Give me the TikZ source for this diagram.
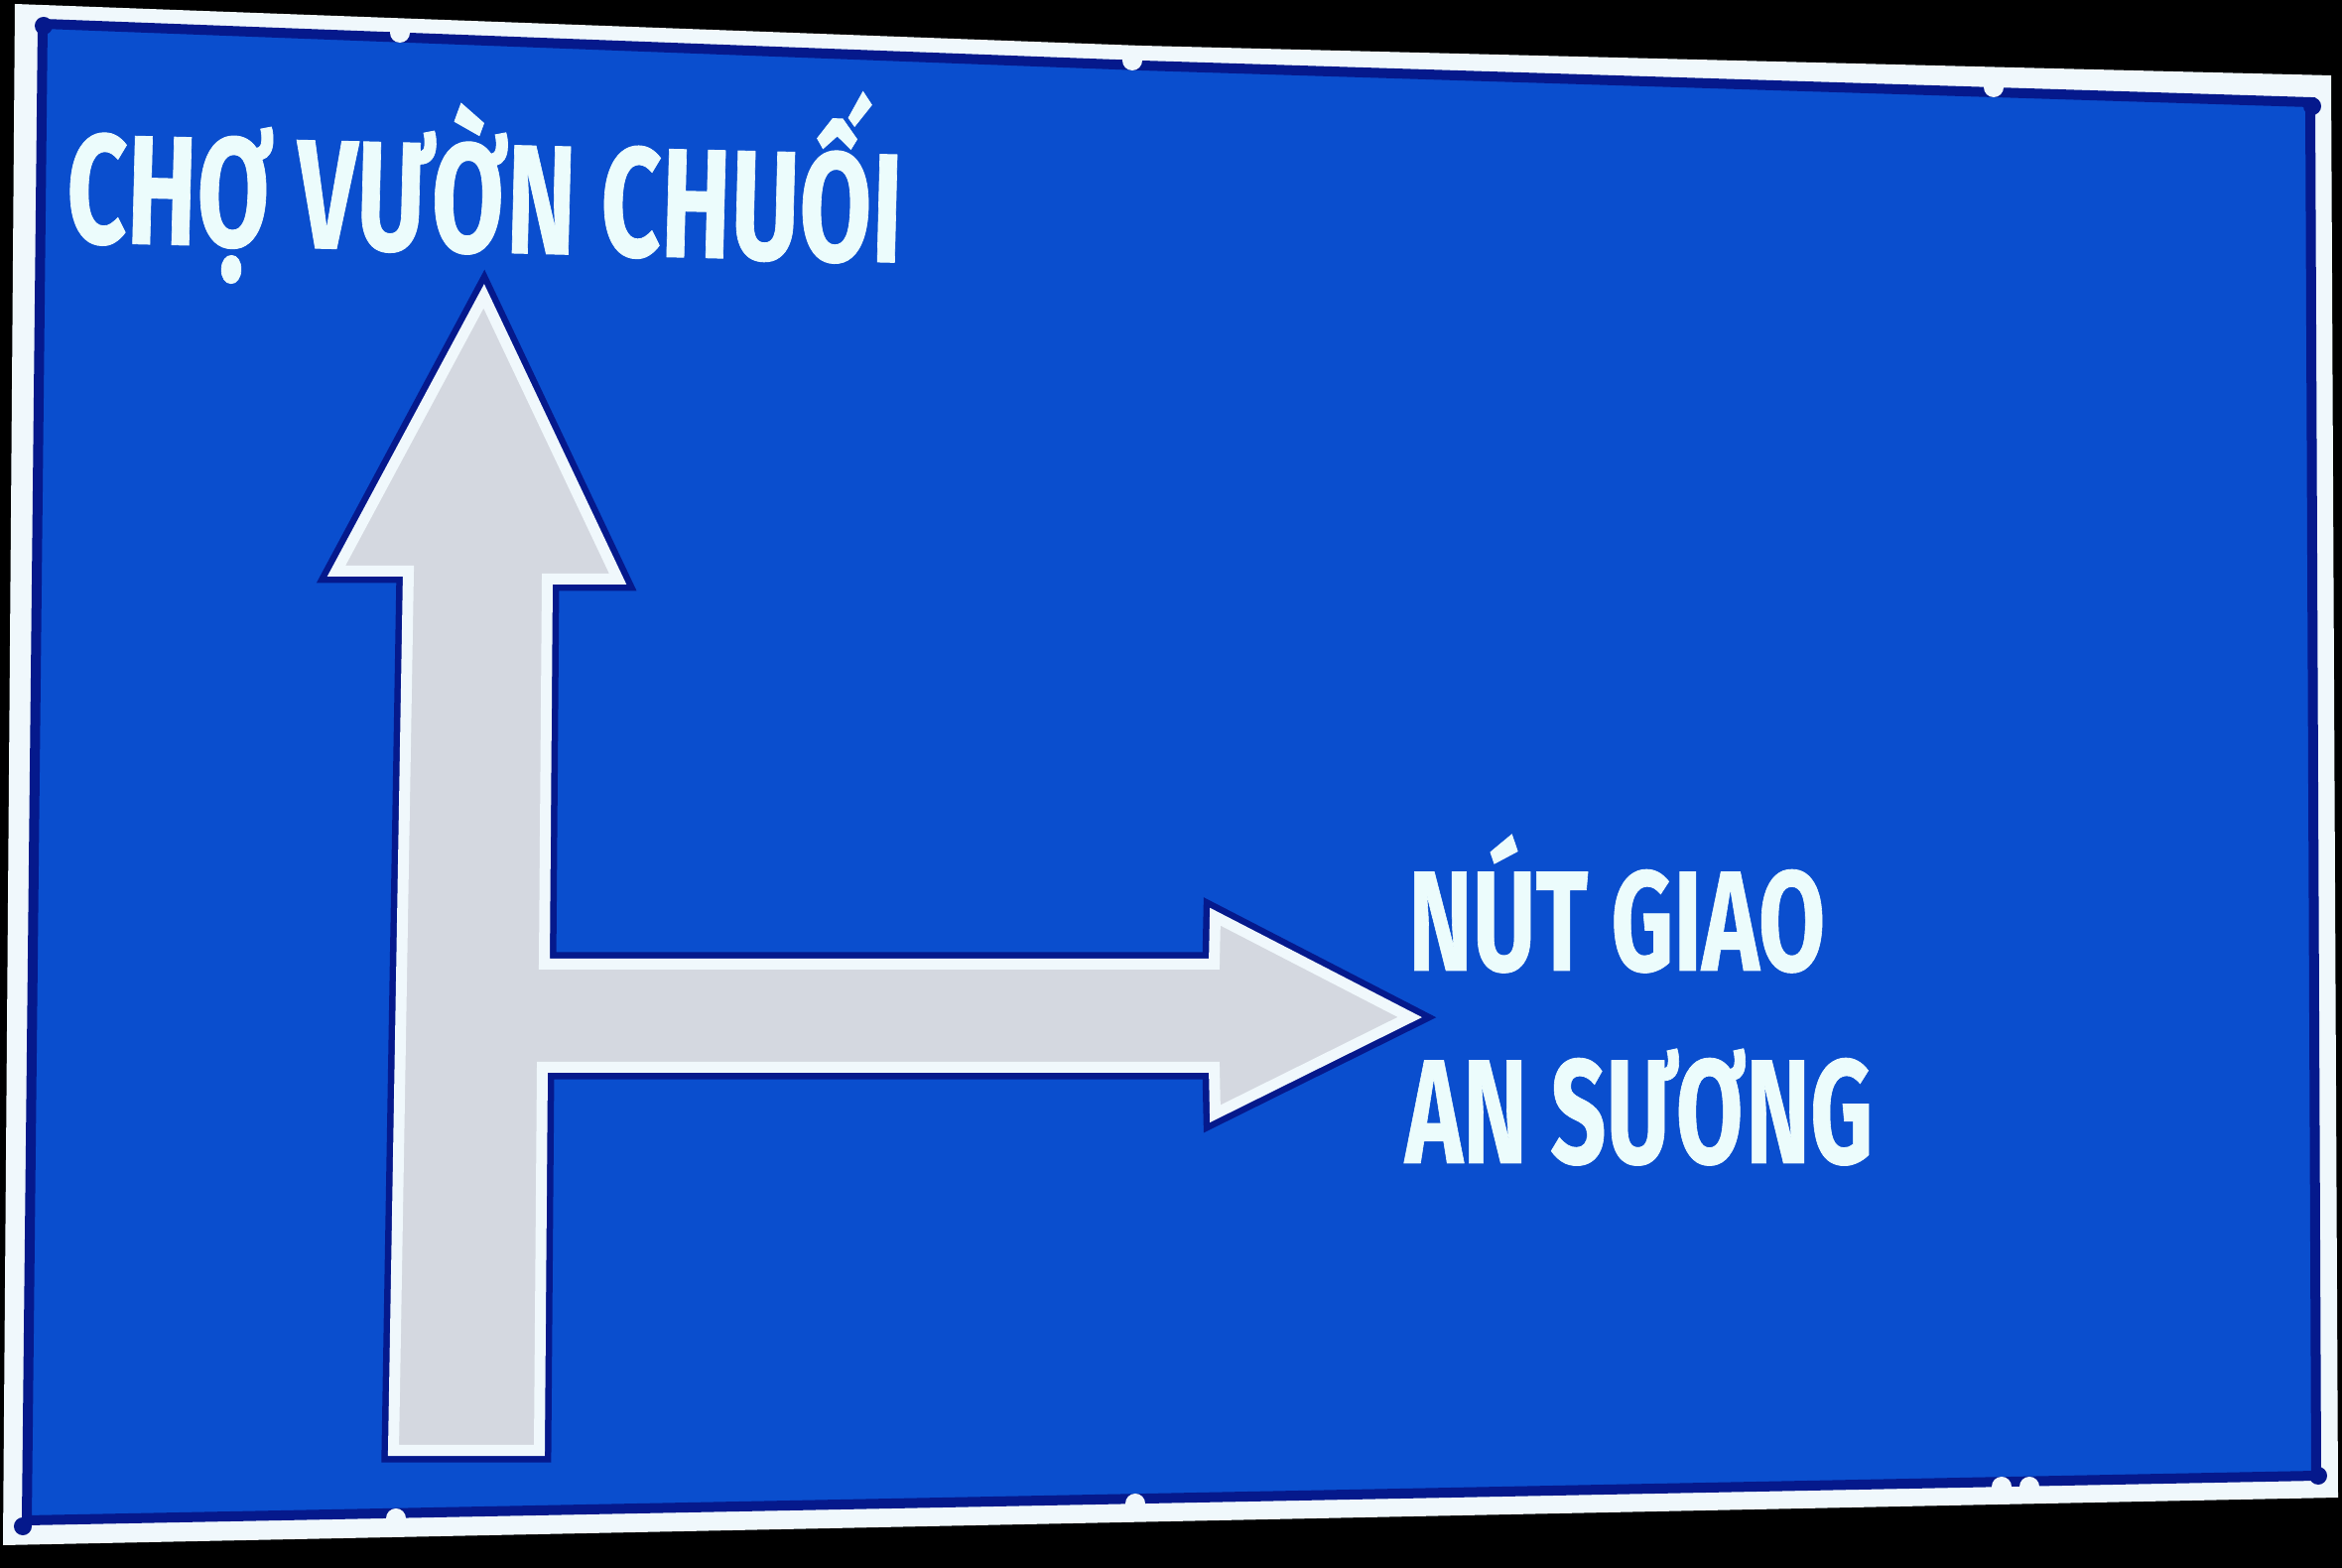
\documentclass[tikz,border=0pt]{standalone}
\usepackage{fontspec}
\newfontfamily\signfont{Fira Sans}[BoldFeatures={FakeBold=0.6}]
\definecolor{signblue}{RGB}{10,78,206}
\definecolor{signnavy}{RGB}{5,25,140}
\definecolor{bordwhite}{RGB}{240,248,252}
\definecolor{arrowgray}{RGB}{212,216,224}
\definecolor{textwhite}{RGB}{236,252,252}
\newcommand\arrowoutline{(411.5,575.5) -- (338.9,575.5) -- (487.6,298.4) -- (622.6,583.5) -- (551.5,583.5) -- (548.5,971.5) -- (1223.5,971.5) -- (1224.5,923.7) -- (1420.7,1025) -- (1224.5,1122.3) -- (1223.5,1075.5) -- (546.5,1075.5) -- (543.5,1461.5) -- (396.5,1461.5) -- cycle}
\tikzset{
  signtext/.style={inner sep=0pt, outer sep=0pt, text=textwhite, font=\signfont\bfseries},
  clip bump/.style={fill=bordwhite},
  rivet/.style={fill=signnavy}
}
\begin{document}
\begin{tikzpicture}[x=0.01cm,y=-0.01cm,line join=miter]
\useasboundingbox (0,0) rectangle (2360,1580);
\fill[black] (0,0) rectangle (2360,1580);
% sign plate
\fill[bordwhite] (15,4) -- (1150,46) -- (2349,76) -- (2356,1509) -- (3,1557) -- cycle;
\path[fill=signblue, draw=signnavy, line width=0.1cm] (43,24) -- (1150,66) -- (2328,103) -- (2334,1487) -- (27,1532) -- cycle;
% clips
\foreach \p in {(403,33),(1141,61),(2009,88),(399,1530),(1144,1515),(2017,1498),(2045,1498)}
  \fill[clip bump] \p circle[radius=0.1cm];
% rivets
\foreach \p in {(44,26),(2330,107),(2336,1487),(23,1538)}
  \fill[rivet] \p circle[radius=0.09cm];
% arrow
\draw[signnavy, line width=0.24cm] \arrowoutline;
\draw[bordwhite, fill=arrowgray, line width=0.11cm] \arrowoutline;
% texts
\node[signtext, anchor=base west, rotate=-1.4] (cho) at (66,244)
  {\resizebox{8.42cm}{\height}{\fontsize{44.5pt}{46pt}\selectfont CHỢ VƯỜN CHUỐI}};
\node[signtext, anchor=base west] (nut) at (1419,978)
  {\resizebox{4.20cm}{\height}{\fontsize{40.8pt}{42pt}\selectfont NÚT GIAO}};
\node[signtext, anchor=base west] (an) at (1416,1172)
  {\resizebox{4.71cm}{\height}{\fontsize{42.4pt}{44pt}\selectfont AN SƯƠNG}};
\end{tikzpicture}
\end{document}
